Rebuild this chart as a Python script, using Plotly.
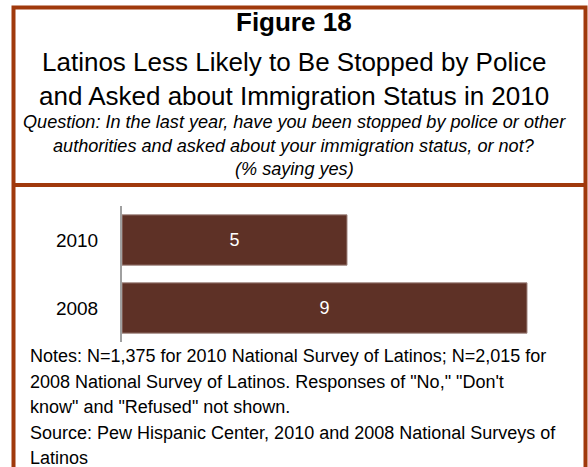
import plotly.graph_objects as go

# Survey data: share of Latinos saying yes (%)
years = ["2010", "2008"]
pct_yes = [5, 9]

title = "Figure 18"
subtitle_lines = [
    "Latinos Less Likely to Be Stopped by Police",
    "and Asked about Immigration Status in 2010",
]
question_lines = [
    "Question: In the last year, have you been stopped by police or other",
    "authorities and asked about your immigration status, or not?",
    "(% saying yes)",
]
note_lines = [
    "Notes: N=1,375 for 2010 National Survey of Latinos; N=2,015 for",
    "2008 National Survey of Latinos. Responses of \"No,\" \"Don't",
    "know\" and \"Refused\" not shown.",
    "Source: Pew Hispanic Center, 2010 and 2008 National Surveys of",
    "Latinos",
]

W, H = 588, 467
FONT = "Liberation Sans, Arial, sans-serif"
BAR = "#5E3126"
FRAME = "#A0390C"


def px(x):
    return x / W


def py(y):
    return 1 - y / H


fig = go.Figure(
    go.Bar(
        x=pct_yes,
        y=years,
        orientation="h",
        marker=dict(color=BAR, line=dict(color="#A08680", width=1)),
        text=pct_yes,
        textposition="inside",
        insidetextanchor="middle",
        textfont=dict(color="white", size=18, family=FONT),
        width=0.74,
        hoverinfo="skip",
    )
)

annotations = []
annotations.append(dict(text="<b>" + title + "</b>", x=0.5, y=py(22), font=dict(size=26)))
for i, line in enumerate(subtitle_lines):
    annotations.append(dict(text=line, x=0.5, y=py(62 + 34 * i), font=dict(size=26)))
for i, line in enumerate(question_lines):
    annotations.append(dict(text="<i>" + line + "</i>", x=0.5, y=py(122 + 23.5 * i), font=dict(size=18.1)))
for a in annotations:
    a.update(xref="paper", yref="paper", xanchor="center", yanchor="middle", showarrow=False)
    a["font"].update(family=FONT, color="black")
for i, line in enumerate(note_lines):
    annotations.append(dict(
        text=line, x=px(28), y=py(356 + 25.5 * i), xref="paper", yref="paper",
        xanchor="left", yanchor="middle", showarrow=False,
        font=dict(size=18, family=FONT, color="black"),
    ))

# frame: open at the bottom, with a divider under the heading
shapes = [
    dict(type="path", xref="paper", yref="paper",
         path=f"M {px(13.5)} 0 L {px(13.5)} {py(7.5)} L {px(585.5)} {py(7.5)} L {px(585.5)} 0",
         line=dict(color=FRAME, width=4)),
    dict(type="line", xref="paper", yref="paper",
         x0=px(13.5), x1=px(585.5), y0=py(185), y1=py(185),
         line=dict(color=FRAME, width=4)),
]

fig.update_layout(
    width=W, height=H,
    margin=dict(l=0, r=0, t=0, b=0),
    paper_bgcolor="white", plot_bgcolor="white",
    showlegend=False,
    bargap=0.26,
    font=dict(family=FONT, color="black"),
    annotations=annotations,
    shapes=shapes,
    xaxis=dict(domain=[px(122), px(572)], range=[0, 10], visible=False, fixedrange=True),
    yaxis=dict(
        domain=[py(342), py(206)],
        autorange="reversed",
        showline=True, linecolor="#A0A0A0", linewidth=2,
        ticks="", ticklabelstandoff=18,
        tickfont=dict(size=19, family=FONT, color="black"),
        showgrid=False, zeroline=False, fixedrange=True,
    ),
)

fig.write_html("out.html")
